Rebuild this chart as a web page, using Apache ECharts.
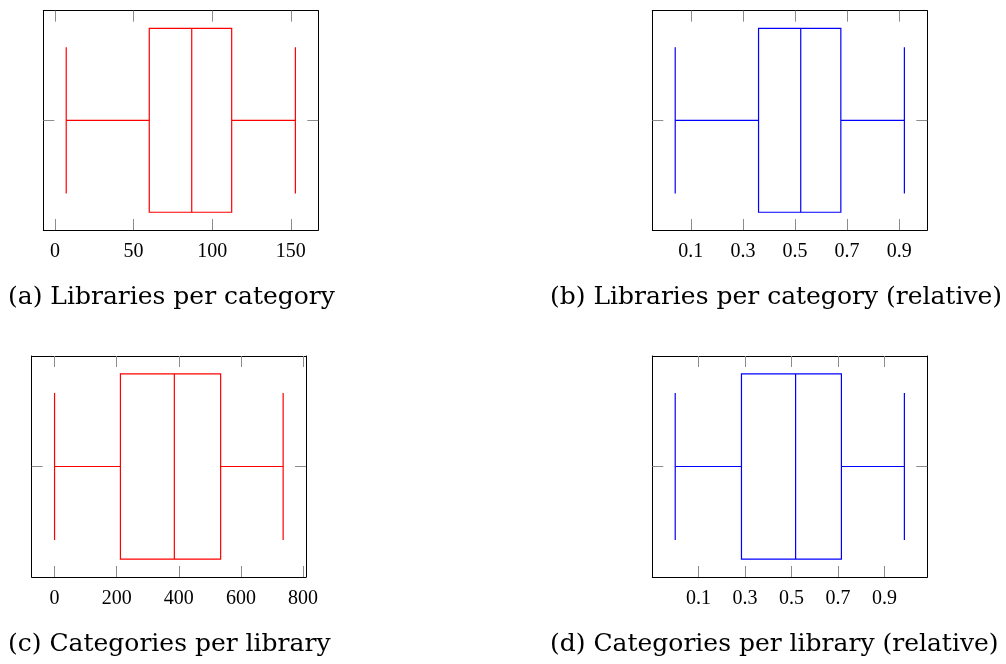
<!DOCTYPE html>
<html><head><meta charset="utf-8">
<script src="https://cdn.jsdelivr.net/npm/echarts@6/dist/echarts.min.js"></script>
<style>html,body{margin:0;padding:0;background:#fff}#c{width:1006px;height:664px}</style>
</head><body><div id="c"></div>
<script>
// ---- data ----
const captions = ['(a) Libraries per category', '(b) Libraries per category (relative)', '(c) Categories per library', '(d) Categories per library (relative)'];
const boxCategory = ['all'];
// [lower whisker, Q1, median, Q3, upper whisker]
const statsA = [7.2, 60.0, 87.0, 112.4, 152.9];
const statsB = [0.04, 0.36, 0.522, 0.676, 0.92];
const statsC = [0, 212, 385.6, 534.6, 735.8];
const statsD = [0.0, 0.285, 0.518, 0.715, 0.986];
const ticksA = [0, 50, 100, 150];
const ticksB = [0.1, 0.3, 0.5, 0.7, 0.9];
const ticksC = [0, 200, 400, 600, 800];
const ticksD = [0.1, 0.3, 0.5, 0.7, 0.9];
const boxColors = ['#ff0000', '#0000ff', '#ff0000', '#0000ff'];

const panels = [
  {stats: statsA, ticks: ticksA, grid: {left: 43.3, top: 10.7, width: 275, height: 219.3}},
  {stats: statsB, ticks: ticksB, grid: {left: 652.3, top: 10.7, width: 275, height: 219.3}},
  {stats: statsC, ticks: ticksC, grid: {left: 31.7, top: 356, width: 274.3, height: 221}},
  {stats: statsD, ticks: ticksD, grid: {left: 652.3, top: 356, width: 275, height: 221}}
];
const captionPos = [{left: 8, top: 285}, {left: 550, top: 285}, {left: 8, top: 632}, {left: 550, top: 632}];

const FONT = 'Liberation Serif';
const CAP_FONT = 'DejaVu Serif';
const tickColor = '#8c8c8c';

function renderItem(params, api) {
  const cat = api.value(5);
  const pLo = api.coord([api.value(0), cat]);
  const pQ1 = api.coord([api.value(1), cat]);
  const pMed = api.coord([api.value(2), cat]);
  const pQ3 = api.coord([api.value(3), cat]);
  const pHi = api.coord([api.value(4), cat]);
  const band = api.size([0, 1])[1];
  const bh = band * 0.838 / 2, ch = band * 0.666 / 2;
  const cy = pMed[1];
  const color = api.visual('color');
  const st = {stroke: color, lineWidth: 1.2, fill: null};
  return {type: 'group', children: [
    {type: 'rect', shape: {x: pQ1[0], y: cy - bh, width: pQ3[0] - pQ1[0], height: 2 * bh}, style: {stroke: color, lineWidth: 1.2, fill: 'rgba(0,0,0,0)'}},
    {type: 'line', shape: {x1: pMed[0], y1: cy - bh, x2: pMed[0], y2: cy + bh}, style: st},
    {type: 'line', shape: {x1: pLo[0], y1: cy, x2: pQ1[0], y2: cy}, style: st},
    {type: 'line', shape: {x1: pQ3[0], y1: cy, x2: pHi[0], y2: cy}, style: st},
    {type: 'line', shape: {x1: pLo[0], y1: cy - ch, x2: pLo[0], y2: cy + ch}, style: st},
    {type: 'line', shape: {x1: pHi[0], y1: cy - ch, x2: pHi[0], y2: cy + ch}, style: st}
  ]};
}

const grid = [], xAxis = [], yAxis = [], series = [], title = [];
panels.forEach((p, i) => {
  grid.push(Object.assign({containLabel: false}, p.grid));
  const lo = p.stats[0], hi = p.stats[4], pad = (hi - lo) * 0.1;
  const min = lo - pad, max = hi + pad;
  const common = {
    type: 'value', gridIndex: i, min: min, max: max,
    splitLine: {show: false},
    axisLine: {show: true, onZero: false, lineStyle: {color: '#000', width: 1}},
    axisTick: {show: true, inside: true, length: 11, customValues: p.ticks, lineStyle: {color: tickColor, width: 1}}
  };
  xAxis.push(Object.assign({}, common, {position: 'bottom',
    axisLabel: {show: true, customValues: p.ticks, margin: 12, fontFamily: FONT, fontSize: 20, color: '#000'}}));
  xAxis.push(Object.assign({}, common, {position: 'top', axisLabel: {show: false}}));
  const ycommon = {
    type: 'category', gridIndex: i, data: boxCategory,
    axisLine: {show: true, onZero: false, lineStyle: {color: '#000', width: 1}},
    axisTick: {show: true, inside: true, length: 11, alignWithLabel: true, lineStyle: {color: tickColor, width: 1}},
    axisLabel: {show: false}, splitLine: {show: false}
  };
  yAxis.push(Object.assign({}, ycommon, {position: 'left'}));
  yAxis.push(Object.assign({}, ycommon, {position: 'right'}));
  series.push({
    type: 'custom', xAxisIndex: 2 * i, yAxisIndex: 2 * i,
    itemStyle: {color: boxColors[i]},
    encode: {x: [0, 1, 2, 3, 4], y: 5},
    data: [p.stats.concat([0])],
    renderItem: renderItem
  });
  title.push({text: captions[i], left: captionPos[i].left, top: captionPos[i].top, padding: 0,
    textStyle: {fontFamily: CAP_FONT, fontSize: 25, fontWeight: 'normal', color: '#000'}});
});

const chart = echarts.init(document.getElementById('c'), null, {renderer: 'canvas'});
chart.setOption({animation: false, backgroundColor: '#fff', title, grid, xAxis, yAxis, series});
</script>
</body></html>
